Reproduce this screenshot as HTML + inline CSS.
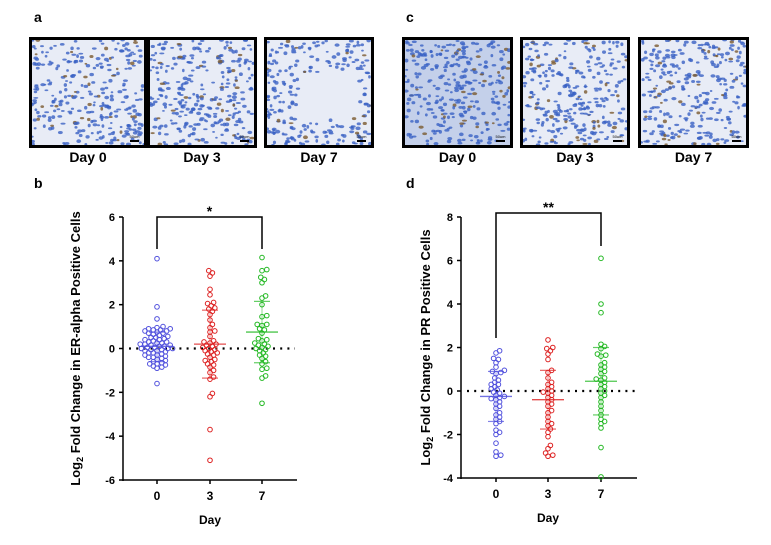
<!DOCTYPE html>
<html><head><meta charset="utf-8">
<style>
body{margin:0;background:#fff;width:771px;height:540px;overflow:hidden;font-family:"Liberation Sans",Arial,sans-serif;}
svg text{font-family:"Liberation Sans",Arial,sans-serif;}
</style></head>
<body>
<svg id="fig" width="771" height="540" xmlns="http://www.w3.org/2000/svg">
<g id="photos"></g>
<text x="34" y="22" font-size="14" font-weight="bold">a</text>
<text x="406" y="22" font-size="14" font-weight="bold">c</text>
<text x="34" y="188" font-size="14" font-weight="bold">b</text>
<text x="406" y="188" font-size="14" font-weight="bold">d</text>
<g id="chartB"></g>
<g id="chartD"></g>
</svg>
<script>
var NS="http://www.w3.org/2000/svg";
function mk(tag,attrs,parent){var e=document.createElementNS(NS,tag);for(var k in attrs)e.setAttribute(k,attrs[k]);parent.appendChild(e);return e;}

// ---- data ----
var categories=["0","3","7"];
var colors=["#5050dd","#dd2020","#22b822"];
var b_day0=[4.1,1.9,1.35,1.0,0.95,0.9,0.9,0.85,0.85,0.8,0.8,0.75,0.7,0.7,0.65,0.6,0.55,0.5,0.5,0.45,0.4,0.4,0.35,0.3,0.3,0.25,0.25,0.2,0.2,0.15,0.15,0.1,0.1,0.05,0.05,0,0,0,-0.05,-0.05,-0.1,-0.1,-0.15,-0.2,-0.2,-0.25,-0.3,-0.3,-0.35,-0.4,-0.4,-0.45,-0.5,-0.55,-0.6,-0.65,-0.7,-0.7,-0.75,-0.8,-0.85,-0.9,-1.6];
var b_day3=[3.55,3.45,3.3,2.7,2.45,2.1,2.05,1.95,1.85,1.8,1.7,1.55,1.3,1.1,0.95,0.8,0.75,0.55,0.35,0.3,0.25,0.2,0.15,0.1,0.05,0,-0.05,-0.1,-0.15,-0.2,-0.25,-0.3,-0.4,-0.5,-0.55,-0.6,-0.7,-0.75,-0.85,-1.0,-1.1,-1.3,-1.4,-2.05,-2.2,-3.7,-5.1];
var b_day7=[4.15,3.6,3.55,3.25,3.15,3.0,2.4,2.3,2.0,1.5,1.45,1.1,1.1,1.05,0.9,0.85,0.7,0.45,0.4,0.35,0.25,0.2,0.15,0.1,0.05,0,-0.05,-0.1,-0.2,-0.3,-0.35,-0.45,-0.6,-0.7,-0.9,-0.95,-1.25,-1.35,-2.5];
var b_mean=[0.1,0.2,0.75];
var b_upper=[0.75,1.75,2.15];
var b_lower=[-0.6,-1.35,-0.65];
var b_ticks=[6,4,2,0,-2,-4,-6];
var d_day0=[1.85,1.75,1.5,1.45,1.3,1.1,0.95,0.9,0.85,0.8,0.6,0.5,0.4,0.3,0.3,0.2,0.1,0.05,-0.05,-0.1,-0.2,-0.25,-0.3,-0.35,-0.4,-0.5,-0.6,-0.7,-0.8,-1.0,-1.1,-1.2,-1.3,-1.4,-1.5,-1.8,-1.9,-2.0,-2.4,-2.8,-3.0,-2.95];
var d_day3=[2.35,2.0,1.95,1.85,1.7,1.45,0.95,0.85,0.6,0.4,0.3,0.2,0.1,0,-0.05,-0.1,-0.2,-0.3,-0.4,-0.5,-0.6,-0.7,-0.9,-1.0,-1.2,-1.4,-1.5,-1.6,-1.75,-1.9,-2.1,-2.5,-2.65,-2.85,-2.95,-3.0];
var d_day7=[6.1,4.0,3.6,2.15,2.05,1.95,1.7,1.65,1.6,1.3,1.2,1.1,1.0,0.9,0.8,0.6,0.55,0.5,0.4,0.3,0.2,0.1,0,-0.1,-0.2,-0.3,-0.5,-0.7,-0.9,-1.1,-1.3,-1.4,-1.5,-1.7,-2.6,-3.95];
var d_mean=[-0.25,-0.4,0.45];
var d_upper=[0.9,0.95,2.0];
var d_lower=[-1.4,-1.75,-1.1];
var d_ticks=[8,6,4,2,0,-2,-4];

function drawChart(g,cfg){
  var ymin=cfg.ymin,ymax=cfg.ymax;
  function Y(v){return cfg.yBot-(v-ymin)/(ymax-ymin)*(cfg.yBot-cfg.yTop);}
  function X(i){return cfg.cx[i];}
  var ax=mk('line',{x1:cfg.ax,y1:cfg.yTop,x2:cfg.ax,y2:cfg.yBot+1,stroke:'#000','stroke-width':1.5},g);
  
  var xa=mk('line',{x1:cfg.ax,y1:cfg.yBot,x2:cfg.xEnd,y2:cfg.yBot,stroke:'#000','stroke-width':1.5},g);
  
  cfg.ticks.forEach(function(t){
    var y=Y(t);
    var l=mk('line',{x1:cfg.ax-4,y1:y,x2:cfg.ax,y2:y,stroke:'#000','stroke-width':1.5},g);
    
    var tx=mk('text',{x:cfg.ax-8,y:y+4,'font-size':11,'font-weight':'bold','text-anchor':'end'},g);
    tx.textContent=t;
  });
  categories.forEach(function(c,i){
    var l=mk('line',{x1:X(i),y1:cfg.yBot,x2:X(i),y2:cfg.yBot+4,stroke:'#000','stroke-width':1.5},g);
    
    var tx=mk('text',{x:X(i),y:cfg.yBot+20,'font-size':12,'font-weight':'bold','text-anchor':'middle'},g);
    tx.textContent=c;
  });
  var z=mk('line',{x1:cfg.ax+6,y1:Y(0),x2:cfg.xEnd-2,y2:Y(0),stroke:'#000','stroke-width':2.2,'stroke-dasharray':'2 5.2'},g);
  
  cfg.series.forEach(function(vals,i){
    var placed=[];var d=3.9;
    var sorted=vals.slice().sort(function(a,b){return a-b;});
    sorted.forEach(function(v){
      var y=Y(v),off=0,k=0;
      while(true){
        var cand=(k===0)?0:((k%2===1)?1:-1)*Math.ceil(k/2)*1.2;
        var ok=placed.every(function(p){var dx=p[0]-cand,dy=p[1]-y;return dx*dx+dy*dy>=d*d;});
        if(ok){off=cand;break;}k++;if(k>80){off=cand;break;}
      }
      placed.push([off,y]);
      var c=mk('circle',{cx:X(i)+off,cy:y,r:2.3,fill:'none',stroke:colors[i],'stroke-width':1},g);
      
      
    });
    var m=mk('line',{x1:X(i)-16,y1:Y(cfg.mean[i]),x2:X(i)+16,y2:Y(cfg.mean[i]),stroke:colors[i],'stroke-width':1.3,opacity:0.8},g);
    
    var v=mk('line',{x1:X(i),y1:Y(cfg.upper[i]),x2:X(i),y2:Y(cfg.lower[i]),stroke:colors[i],'stroke-width':1,opacity:0.5},g);
    
    [cfg.upper[i],cfg.lower[i]].forEach(function(e){
      var h=mk('line',{x1:X(i)-8,y1:Y(e),x2:X(i)+8,y2:Y(e),stroke:colors[i],'stroke-width':1.2,opacity:0.7},g);
      
    });
  });
  var br=mk('path',{d:'M'+X(0)+' '+cfg.brL+' V'+cfg.brTop+' H'+X(2)+' V'+cfg.brR,fill:'none',stroke:'#000','stroke-width':1.5},g);
  
  var st=mk('text',{x:(X(0)+X(2))/2,y:cfg.brTop-1,'font-size':14,'font-weight':'bold','text-anchor':'middle'},g);
  st.textContent=cfg.star;
  var yl=mk('text',{x:0,y:0,'font-size':13,'font-weight':'bold','text-anchor':'middle',transform:'translate('+cfg.ylx+','+((cfg.yTop+cfg.yBot)/2)+') rotate(-90)'},g);
  yl.innerHTML='Log<tspan font-size="9" dy="3">2</tspan><tspan dy="-3"> '+cfg.ylabel+'</tspan>';
  
  var xl=mk('text',{x:X(1),y:cfg.yBot+44,'font-size':12,'font-weight':'bold','text-anchor':'middle'},g);
  xl.textContent='Day';
}
drawChart(document.getElementById('chartB'),{ymin:-6,ymax:6,yTop:217,yBot:480,ax:123,xEnd:297,cx:[157,210,262],ticks:b_ticks,series:[b_day0,b_day3,b_day7],mean:b_mean,upper:b_upper,lower:b_lower,brTop:217,brL:249,brR:249,star:'*',ylx:80,ylabel:'Fold Change in ER-alpha Positive Cells'});
drawChart(document.getElementById('chartD'),{ymin:-4,ymax:8,yTop:217,yBot:478,ax:461,xEnd:637,cx:[496,548,601],ticks:d_ticks,series:[d_day0,d_day3,d_day7],mean:d_mean,upper:d_upper,lower:d_lower,brTop:213,brL:338,brR:246,star:'**',ylx:430,ylabel:'Fold Change in PR Positive Cells'});

var photos=document.getElementById('photos');
var boxes=[[29,147,"Day 0"],[147,257,"Day 3"],[264,374,"Day 7"],[402,513,"Day 0"],[520,630,"Day 3"],[638,749,"Day 7"]];
var seed=7;function rnd(){seed=(seed*16807)%2147483647;return seed/2147483647;}
boxes.forEach(function(b,idx){
  var x0=b[0],x1=b[1],y0=37,y1=148;
  var g=mk('g',{},photos);
  
  
  mk('rect',{x:x0,y:y0,width:x1-x0,height:y1-y0,fill:idx==3?'#c4d0ea':'#e8ecf6'},g);
  for(var n=0;n<300;n++){
    var cx=x0+3+rnd()*(x1-x0-6),cy=y0+3+rnd()*(y1-y0-6);
    if(idx==2&&cx>x0+35&&cx<x0+95&&cy>y0+35&&cy<y0+80)continue;
    mk('ellipse',{cx:cx,cy:cy,rx:1.3+rnd()*1.3,ry:0.9+rnd(),fill:rnd()<0.1?'#7a5a30':'#3a62c4',opacity:0.8},g);
  }
  mk('rect',{x:x0+1.5,y:y0+1.5,width:x1-x0-3,height:y1-y0-3,fill:'none',stroke:'#000','stroke-width':3},g);
  mk('rect',{x:x1-17,y:y1-8,width:9,height:2,fill:'#000'},g);
  var s=mk('text',{x:x1-12.5,y:y1-10,'font-size':4,'text-anchor':'middle'},g);s.textContent='50um';
  var t=mk('text',{x:(x0+x1)/2,y:162,'font-size':14,'font-weight':'bold','text-anchor':'middle'},photos);
  t.textContent=b[2];
});
</script>
</body></html>
